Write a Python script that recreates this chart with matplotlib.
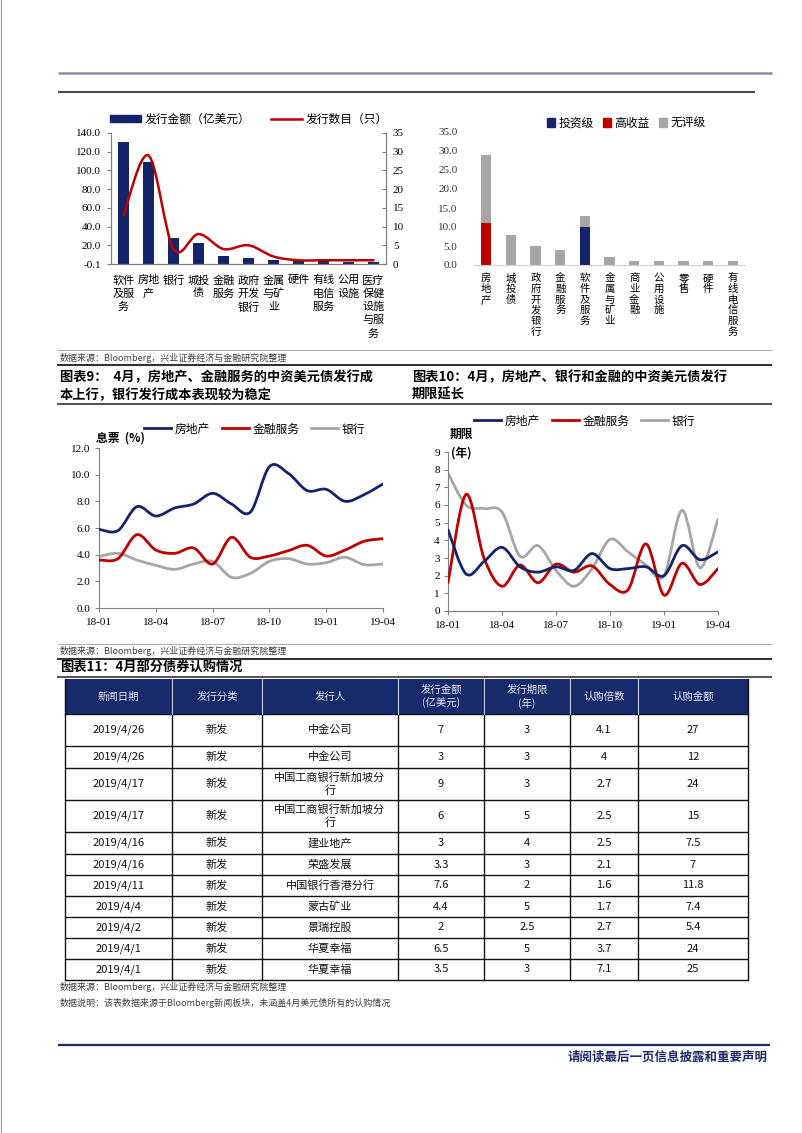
import numpy as np
import matplotlib
matplotlib.use("Agg")
import matplotlib.pyplot as plt
from matplotlib.path import Path
from matplotlib.patches import PathPatch, Rectangle, Patch
from matplotlib.lines import Line2D

plt.rcParams['font.family'] = ['Noto Sans CJK SC', 'DejaVu Sans']
SERIF = ['Liberation Serif', 'Noto Sans CJK SC']
NARROW = ['Liberation Sans Narrow', 'Noto Sans CJK SC']

# ---- data: chart 1 (issuance by industry)
ind1 = ['软件及服务', '房地产', '银行', '城投债', '金融服务', '政府开发银行',
        '金属与矿业', '硬件', '有线电信服务', '公用设施', '医疗保健设施与服务']
ind1_labels = ['软件\n及服\n务', '房地\n产', '银行', '城投\n债', '金融\n服务', '政府\n开发\n银行',
               '金属\n与矿\n业', '硬件', '有线\n电信\n服务', '公用\n设施', '医疗\n保健\n设施\n与服\n务']
amount1 = [130, 109, 28, 22, 8, 6, 4.5, 3, 3, 2.5, 2]
count1 = [13, 29, 4, 8, 4, 5, 2, 1, 1, 1, 1]

# ---- data: chart 2 (count by rating)
ind2 = ['房地产', '城投债', '政府开发银行', '金融服务', '软件及服务', '金属与矿业',
        '商业金融', '公用设施', '零售', '硬件', '有线电信服务']
invest_grade = [0, 0, 0, 0, 10, 0, 0, 0, 0, 0, 0]
high_yield = [11, 0, 0, 0, 0, 0, 0, 0, 0, 0, 0]
no_rating = [18, 8, 5, 4, 3, 2, 1, 1, 1, 1, 1]

# ---- data: chart 3 / 4 (monthly 18-01 .. 19-04)
months = ['18-01', '18-02', '18-03', '18-04', '18-05', '18-06', '18-07', '18-08',
          '18-09', '18-10', '18-11', '18-12', '19-01', '19-02', '19-03', '19-04']
coupon_re = [5.9, 5.8, 7.6, 6.9, 7.5, 7.8, 8.6, 7.8, 7.2, 10.6, 10.1, 8.8, 8.9, 8.0, 8.5, 9.3]
coupon_fin = [3.6, 3.7, 5.5, 4.35, 4.1, 4.5, 3.3, 5.3, 3.8, 3.9, 4.3, 4.7, 3.9, 4.35, 5.0, 5.2]
coupon_bank = [3.85, 4.1, 3.6, 3.2, 2.9, 3.3, 3.5, 2.3, 2.6, 3.5, 3.7, 3.3, 3.4, 3.8, 3.25, 3.3]
tenor_re = [4.6, 2.1, 2.8, 3.6, 2.5, 2.2, 2.5, 2.3, 3.25, 2.4, 2.4, 2.5, 2.0, 3.7, 2.9, 3.35]
tenor_fin = [1.6, 6.6, 3.0, 1.4, 2.6, 1.6, 2.65, 2.2, 2.55, 1.5, 1.2, 3.8, 0.9, 2.7, 1.5, 2.4]
tenor_bank = [7.8, 6.0, 5.8, 5.6, 3.1, 3.7, 2.3, 1.4, 2.4, 4.05, 3.35, 2.6, 2.0, 5.7, 2.45, 5.2]

# ---- data: table 11
tab_header = ['新闻日期', '发行分类', '发行人', '发行金额\n(亿美元)', '发行期限\n(年)', '认购倍数', '认购金额']
dates = ['2019/4/26', '2019/4/26', '2019/4/17', '2019/4/17', '2019/4/16', '2019/4/16',
         '2019/4/11', '2019/4/4', '2019/4/2', '2019/4/1', '2019/4/1']
kinds = ['新发'] * 11
issuers = ['中金公司', '中金公司', '中国工商银行新加坡分行', '中国工商银行新加坡分行', '建业地产',
           '荣盛发展', '中国银行香港分行', '蒙古矿业', '景瑞控股', '华夏幸福', '华夏幸福']
amounts = [7, 3, 9, 6, 3, 3.3, 7.6, 4.4, 2, 6.5, 3.5]
terms = [3, 3, 3, 5, 4, 3, 2, 5, 2.5, 5, 3]
multiples = [4.1, 4, 2.7, 2.5, 2.5, 2.1, 1.6, 1.7, 2.7, 3.7, 7.1]
subscribed = [27, 12, 24, 15, 7.5, 7, 11.8, 7.4, 5.4, 24, 25]

NAVY = '#14246A'
RED = '#C00000'
GREY = '#A6A6A6'
AXC = '#808080'

W, H = 802, 1133
fig = plt.figure(figsize=(W / 100, H / 100), dpi=100)

# page overlay in pixel coordinates
pg = fig.add_axes([0, 0, 1, 1])
pg.set_xlim(0, W)
pg.set_ylim(H, 0)
pg.axis('off')


def px_axes(l, t, r, b):
    ax = fig.add_axes([l / W, 1 - b / H, (r - l) / W, (b - t) / H])
    ax.patch.set_visible(False)
    return ax


def smooth_line(ax, x, y, **kw):
    # Excel-like smoothed line drawn as cubic bezier through the data points
    pts = np.column_stack([np.asarray(x, float), np.asarray(y, float)])
    ext = np.vstack([pts[0], pts, pts[-1]])
    verts = [pts[0]]
    codes = [Path.MOVETO]
    for i in range(len(pts) - 1):
        p0, p1, p2, p3 = ext[i], ext[i + 1], ext[i + 2], ext[i + 3]
        verts += [p1 + (p2 - p0) / 6, p2 - (p3 - p1) / 6, p2]
        codes += [Path.CURVE4] * 3
    ax.add_patch(PathPatch(Path(verts, codes), fill=False, capstyle='round', **kw))


def hline(y, x0, x1, color, lw):
    pg.plot([x0, x1], [y, y], color=color, lw=lw, solid_capstyle='butt')


# ---- page decorations
pg.plot([0.5, 0.5], [0, H], color='#9A9A9A', lw=0.8)
pg.plot([W - 0.5, W - 0.5], [0, H], color='#9A9A9A', lw=0.8)
hline(73, 58, 772, '#8E8E9E', 1.8)
hline(92, 58, 755, '#4A4A4A', 1.5)

# ---- chart 1
ax1 = px_axes(111, 133, 386, 264)
x1 = np.arange(len(ind1))
ax1.bar(x1, amount1, width=0.42, color=NAVY, zorder=2)
ax1.set_xlim(-0.5, len(ind1) - 0.5)
ax1.set_ylim(-0.1, 140)
ax1.set_yticks([-0.1, 20, 40, 60, 80, 100, 120, 140])
ax1.set_yticklabels(['%.1f' % v for v in [-0.1, 20, 40, 60, 80, 100, 120, 140]],
                    family=SERIF, fontsize=8)
ax1.set_xticks(x1)
ax1.set_xticklabels(ind1_labels, fontsize=8, linespacing=1.35, va='top')
ax1.tick_params(axis='x', length=0, pad=8)
ax1.tick_params(axis='y', length=3, color=AXC, pad=4, direction='out')
ax1.spines['top'].set_visible(False)
for s in ['left', 'right', 'bottom']:
    ax1.spines[s].set_color(AXC)
    ax1.spines[s].set_linewidth(0.8)
ax1r = ax1.twinx()
ax1r.patch.set_visible(False)
ax1r.set_ylim(0, 35)
ax1r.set_yticks(range(0, 36, 5))
ax1r.set_yticklabels([str(v) for v in range(0, 36, 5)], family=SERIF, fontsize=8)
ax1r.tick_params(axis='y', length=3, color=AXC, pad=5, direction='in')
ax1r.spines['top'].set_visible(False)
for s in ['left', 'right', 'bottom']:
    ax1r.spines[s].set_color(AXC)
    ax1r.spines[s].set_linewidth(0.8)
smooth_line(ax1r, x1, count1, color=RED, lw=1.8, zorder=3)
fig.legend([Patch(color=NAVY), Line2D([], [], color=RED, lw=1.8)],
           ['发行金额（亿美元）', '发行数目（只）'],
           loc='center left', bbox_to_anchor=(110 / W, 1 - 119 / H), ncol=2, frameon=False,
           fontsize=8.5, handlelength=2.6, handleheight=0.6, handletextpad=0.3,
           columnspacing=1.8, borderaxespad=0, borderpad=0)

# ---- chart 2
ax2 = px_axes(474, 132, 745, 265)
x2 = np.arange(len(ind2))
ax2.bar(x2, invest_grade, width=0.42, color=NAVY, zorder=2)
ax2.bar(x2, high_yield, width=0.42, bottom=invest_grade, color=RED, zorder=2)
base2 = np.array(invest_grade) + np.array(high_yield)
ax2.bar(x2, no_rating, width=0.42, bottom=base2, color=GREY, zorder=2)
ax2.set_xlim(-0.5, len(ind2) - 0.5)
ax2.set_ylim(0, 35)
ax2.set_yticks(range(0, 36, 5))
ax2.set_yticklabels(['%.1f' % v for v in range(0, 36, 5)], family=SERIF, fontsize=8, color='#333333')
ax2.set_xticks(x2)
ax2.set_xticklabels(['\n'.join(s) for s in ind2], fontsize=7.5, linespacing=1.08, va='top')
ax2.tick_params(axis='x', length=0, pad=6)
ax2.tick_params(axis='y', length=0, pad=12)
for s in ['top', 'left', 'right']:
    ax2.spines[s].set_visible(False)
ax2.spines['bottom'].set_color('#D0D0D0')
fig.legend([Patch(color=NAVY), Patch(color=RED), Patch(color=GREY)],
           ['投资级', '高收益', '无评级'],
           loc='center left', bbox_to_anchor=(547 / W, 1 - 123 / H), ncol=3, frameon=False,
           fontsize=8.5, handlelength=0.7, handleheight=0.7, handletextpad=0.25,
           columnspacing=0.8, borderaxespad=0, borderpad=0)

# ---- source + titles for charts 9/10
hline(350, 57, 772, '#B0B0B0', 0.8)
pg.text(60, 358, '数据来源：Bloomberg，兴业证券经济与金融研究院整理', fontsize=6.5,
        color='#404040', va='center')
hline(365, 57, 772, '#333333', 1.5)
pg.text(60, 377, '图表9：  4月，房地产、金融服务的中资美元债发行成', fontsize=9.5,
        fontweight='bold', va='center')
pg.text(60, 395, '本上行，银行发行成本表现较为稳定', fontsize=9.5, fontweight='bold', va='center')
pg.text(412, 377, '图表10：4月，房地产、银行和金融的中资美元债发行', fontsize=9.5,
        fontweight='bold', va='center')
pg.text(412, 395, '期限延长', fontsize=9.5, fontweight='bold', va='center')
hline(404, 57, 772, '#333333', 1.2)

# ---- chart 3 / 4 helpers
xm = np.arange(len(months))


def month_axes(ax, ymax, ystep, fmt):
    ax.set_xlim(0, len(months) - 1)
    ax.set_ylim(0, ymax)
    ticks = np.arange(0, ymax + 0.01, ystep)
    ax.set_yticks(ticks)
    ax.set_yticklabels([fmt % v for v in ticks], family=SERIF, fontsize=8)
    ax.set_xticks(xm[::3])
    ax.set_xticklabels(months[::3], family=SERIF, fontsize=8)
    ax.tick_params(length=3, color=AXC, direction='out', pad=3)
    ax.tick_params(axis='x', pad=4)
    for s in ['top', 'right']:
        ax.spines[s].set_visible(False)
    for s in ['left', 'bottom']:
        ax.spines[s].set_color(AXC)
        ax.spines[s].set_linewidth(0.8)


LW = 2.0
line_handles = [Line2D([], [], color=NAVY, lw=LW), Line2D([], [], color=RED, lw=LW),
                Line2D([], [], color=GREY, lw=LW)]
line_labels = ['房地产', '金融服务', '银行']

ax3 = px_axes(99, 448, 383, 608)
month_axes(ax3, 12, 2, '%.1f')
smooth_line(ax3, xm, coupon_bank, color=GREY, lw=LW, zorder=2)
smooth_line(ax3, xm, coupon_fin, color=RED, lw=LW, zorder=3)
smooth_line(ax3, xm, coupon_re, color=NAVY, lw=LW, zorder=4)
fig.legend(line_handles, line_labels, loc='center left', bbox_to_anchor=(144 / W, 1 - 429 / H),
           ncol=3, frameon=False, fontsize=8.5, handlelength=2.3, handletextpad=0.3,
           columnspacing=1.0, borderaxespad=0, borderpad=0)
pg.text(96, 438, '息票  (%)', fontsize=8.5, fontweight='bold', va='center')

ax4 = px_axes(448, 452, 718, 611)
month_axes(ax4, 9, 1, '%d')
smooth_line(ax4, xm, tenor_bank, color=GREY, lw=LW, zorder=2)
smooth_line(ax4, xm, tenor_fin, color=RED, lw=LW, zorder=3)
smooth_line(ax4, xm, tenor_re, color=NAVY, lw=LW, zorder=4)
fig.legend(line_handles, line_labels, loc='center left', bbox_to_anchor=(474 / W, 1 - 421 / H),
           ncol=3, frameon=False, fontsize=8.5, handlelength=2.3, handletextpad=0.3,
           columnspacing=1.0, borderaxespad=0, borderpad=0)
pg.text(450, 434, '期限', fontsize=8.5, fontweight='bold', va='center')
pg.text(451, 453, '(年)', fontsize=8.5, fontweight='bold', va='center')

# ---- source + title for table 11
hline(644, 57, 772, '#B0B0B0', 0.8)
pg.text(60, 651, '数据来源：Bloomberg，兴业证券经济与金融研究院整理', fontsize=6.5,
        color='#404040', va='center')
hline(659, 57, 772, '#333333', 1.5)
pg.text(60, 668, '图表11：4月部分债券认购情况', fontsize=9.5, fontweight='bold', va='center')
hline(677, 57, 772, '#333333', 1.2)

# ---- table 11
col_edges = [65, 172, 262, 398, 484, 570, 638, 748]
row_edges = [679, 714, 746, 768, 800, 832, 854, 875, 896, 917, 938, 959, 980]
pg.add_patch(Rectangle((col_edges[0], row_edges[0]), col_edges[-1] - col_edges[0],
                       row_edges[1] - row_edges[0], color='#172A6C', lw=0))
cx = [(a + b) / 2 for a, b in zip(col_edges[:-1], col_edges[1:])]
cy = [(a + b) / 2 for a, b in zip(row_edges[:-1], row_edges[1:])]
for j, h in enumerate(tab_header):
    pg.text(cx[j], cy[0], h, ha='center', va='center', fontsize=7.5, color='#E8E8F0',
            linespacing=1.3)


def fmt(v):
    return '%g' % v


def wrap(s, n=10):
    return '\n'.join(s[i:i + n] for i in range(0, len(s), n))


for i in range(len(dates)):
    row = [dates[i], kinds[i], wrap(issuers[i]), fmt(amounts[i]), fmt(terms[i]),
           fmt(multiples[i]), fmt(subscribed[i])]
    for j, v in enumerate(row):
        fam = NARROW if j in (0, 3, 4, 5, 6) else ['Noto Sans CJK SC']
        pg.text(cx[j], cy[i + 1], v, ha='center', va='center', fontsize=8, family=fam,
                color='#111111', linespacing=1.35)

for y in row_edges[1:]:
    hline(y, col_edges[0], col_edges[-1], '#111111', 1.0)
for x in col_edges:
    pg.plot([x, x], [row_edges[1], row_edges[-1]], color='#111111', lw=1.0)
for x in col_edges[1:-1]:
    pg.plot([x, x], [row_edges[0], row_edges[1]], color='#C8C8D8', lw=0.8)
for x in (col_edges[0], col_edges[-1]):
    pg.plot([x, x], [row_edges[0], row_edges[1]], color='#111111', lw=1.0)

pg.text(60, 987, '数据来源：Bloomberg，兴业证券经济与金融研究院整理', fontsize=6.5,
        color='#404040', va='center')
pg.text(60, 1003, '数据说明：该表数据来源于Bloomberg新闻板块，未涵盖4月美元债所有的认购情况',
        fontsize=6.5, color='#404040', va='center')

# ---- footer
hline(1045, 58, 770, '#1F2A6B', 1.6)
pg.text(768, 1057, '请阅读最后一页信息披露和重要声明', fontsize=9, fontweight='bold',
        color='#1F2A6B', ha='right', va='center')

fig.savefig('out.png', dpi=100)
